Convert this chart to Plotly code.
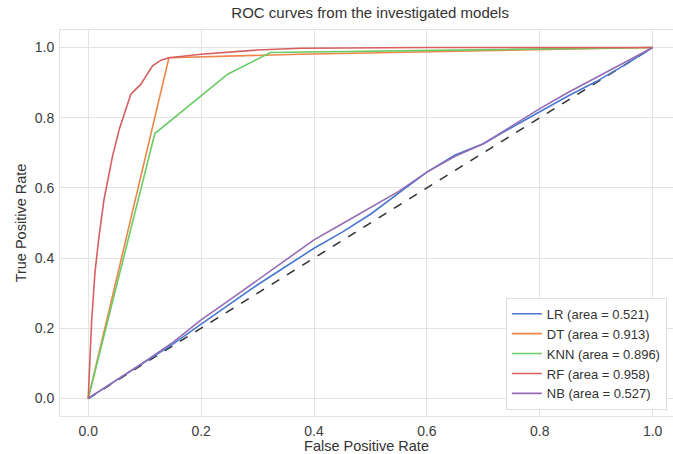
import plotly.graph_objects as go

# ---- data ----
lr_fpr = [0, 0.05, 0.1, 0.15, 0.2, 0.25, 0.3, 0.35, 0.4, 0.45, 0.5, 0.55, 0.6,
          0.65, 0.7, 0.75, 0.8, 0.85, 0.9, 0.95, 1.0]
lr_tpr = [0, 0.052, 0.103, 0.155, 0.212, 0.268, 0.324, 0.376, 0.428, 0.474, 0.525,
          0.585, 0.645, 0.694, 0.726, 0.772, 0.817, 0.862, 0.903, 0.950, 1.0]

nb_fpr = [0, 0.05, 0.1, 0.15, 0.2, 0.25, 0.3, 0.35, 0.4, 0.45, 0.5, 0.55, 0.6,
          0.65, 0.7, 0.75, 0.8, 0.85, 0.9, 0.95, 1.0]
nb_tpr = [0, 0.052, 0.105, 0.160, 0.224, 0.280, 0.338, 0.395, 0.452, 0.498, 0.545,
          0.590, 0.645, 0.690, 0.726, 0.776, 0.826, 0.872, 0.915, 0.958, 1.0]

dt_fpr = [0, 0.143, 0.376, 1.0]
dt_tpr = [0, 0.971, 0.981, 1.0]

knn_fpr = [0, 0.118, 0.247, 0.323, 1.0]
knn_tpr = [0, 0.755, 0.924, 0.986, 1.0]

rf_fpr = [0, 0.006, 0.012, 0.019, 0.028, 0.034, 0.043, 0.055, 0.0755, 0.093,
          0.114, 0.129, 0.143, 0.2, 0.3, 0.376, 0.6, 1.0]
rf_tpr = [0, 0.22, 0.36, 0.46, 0.567, 0.614, 0.69, 0.767, 0.867, 0.895,
          0.948, 0.964, 0.971, 0.981, 0.993, 0.998, 1.0, 1.0]

chance = [0, 1]

names = ["LR (area = 0.521)", "DT (area = 0.913)", "KNN (area = 0.896)",
         "RF (area = 0.958)", "NB (area = 0.527)"]
colors = ["#4878D0", "#EE854A", "#6ACC64", "#D65F5F", "#956CB4"]

series = [(lr_fpr, lr_tpr), (dt_fpr, dt_tpr), (knn_fpr, knn_tpr),
          (rf_fpr, rf_tpr), (nb_fpr, nb_tpr)]

fig = go.Figure()
fig.add_trace(go.Scatter(x=chance, y=chance, mode="lines", showlegend=False,
                         line=dict(color="#333333", width=1.6, dash="dash")))
for (x, y), n, c in zip(series, names, colors):
    fig.add_trace(go.Scatter(x=x, y=y, mode="lines", name=n,
                             line=dict(color=c, width=1.6)))

axis_common = dict(showgrid=True, gridcolor="#e3e3e3", gridwidth=1, zeroline=False,
                   showline=True, linecolor="#e3e3e3", linewidth=1, mirror=True,
                   ticks="outside", ticklen=2, tickcolor="rgba(0,0,0,0)",
                   tickfont=dict(size=14, color="#3c3c3c"),
                   tickformat=".1f", dtick=0.2)

fig.update_layout(
    width=673, height=454,
    margin=dict(l=60, r=0, t=30, b=38),
    paper_bgcolor="white", plot_bgcolor="white",
    font=dict(family="Liberation Sans, Arial, sans-serif", color="#333333"),
    title=dict(text="ROC curves from the investigated models", x=0.55, xref="container",
               xanchor="center", y=0.973, yref="container", yanchor="middle",
               font=dict(size=15, color="#333333")),
    xaxis=dict(range=[-0.05, 1.036], title=dict(text="False Positive Rate",
               font=dict(size=14.5, color="#333333"), standoff=0), **axis_common),
    yaxis=dict(range=[-0.05, 1.05], title=dict(text="True Positive Rate",
               font=dict(size=14.5, color="#333333"), standoff=4), **axis_common),
    legend=dict(x=0.99, y=0.016, xanchor="right", yanchor="bottom",
                bgcolor="rgba(255,255,255,0.9)", bordercolor="#dddddd", borderwidth=1,
                font=dict(size=13, color="#333333"), itemwidth=30, tracegroupgap=0),
)

fig.write_html(
    "out.html",
    config={"displayModeBar": False},
    post_script="document.body.style.margin='0';document.body.style.overflow='hidden';",
)
